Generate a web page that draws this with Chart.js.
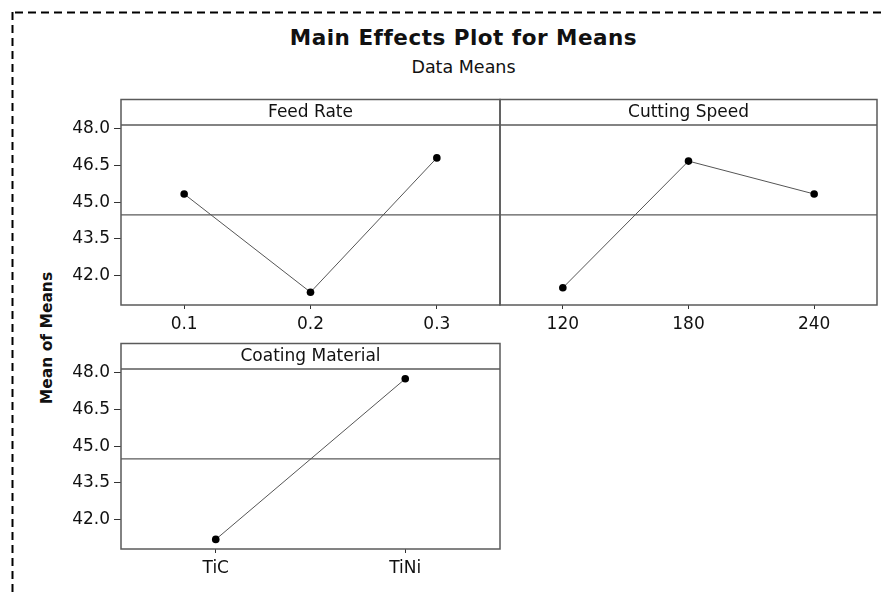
<!DOCTYPE html>
<html>
<head>
<meta charset="utf-8">
<title>Main Effects Plot for Means</title>
<script src="https://cdn.jsdelivr.net/npm/chart.js@4.4.1/dist/chart.umd.min.js"></script>
<style>
  html, body { margin: 0; padding: 0; background: #fff; }
  body { position: relative; width: 883px; height: 593px; overflow: hidden; font-family: "DejaVu Sans", sans-serif; color: #111; }
  canvas.panel { position: absolute; left: 0; top: 0; }
  #frame { position: absolute; left: 0; top: 0; }
  #title { position: absolute; left: 0; top: 27px; width: 927px; text-align: center; font-weight: bold; font-size: 21.5px; line-height: 22px; letter-spacing: 0.5px; }
  #subtitle { position: absolute; left: 0; top: 58px; width: 927px; text-align: center; font-size: 17.5px; line-height: 18px; }
  #ylabel { position: absolute; left: -53px; top: 328px; width: 200px; height: 20px; line-height: 20px; text-align: center; font-weight: bold; font-size: 15.5px; transform: rotate(-90deg); }
</style>
</head>
<body>
<svg id="frame" width="883" height="593">
  <line x1="15" y1="12.5" x2="883" y2="12.5" stroke="#000" stroke-width="2" stroke-dasharray="8 5" />
  <line x1="12.5" y1="12" x2="12.5" y2="593" stroke="#000" stroke-width="2" stroke-dasharray="8 5" />
</svg>
<div id="title">Main Effects Plot for Means</div>
<div id="subtitle">Data Means</div>
<div id="ylabel">Mean of Means</div>
<canvas class="panel" id="feed-chart" width="883" height="593"></canvas>
<canvas class="panel" id="speed-chart" width="883" height="593"></canvas>
<canvas class="panel" id="coating-chart" width="883" height="593"></canvas>
<script>
const feedRateLevels = ["0.1", "0.2", "0.3"];
const feedRateMeans = [45.33, 41.33, 46.8];

const cuttingSpeedLevels = ["120", "180", "240"];
const cuttingSpeedMeans = [41.51, 46.67, 45.33];

const coatingLevels = ["TiC", "TiNi"];
const coatingMeans = [41.2, 47.74];

const grandMean = 44.48;
const yTicks = [42.0, 43.5, 45.0, 46.5, 48.0];
const yMin = 40.81;
const yMax = 48.14;

const PAGE_W = 883;
const PAGE_H = 593;
const X_AXIS_H = 30;
const STRIP_H = 25.5;
const FONT = "'DejaVu Sans', sans-serif";
const LINE_GREY = "#5a5a5a";

// strip header, panel box and the reference line at the grand mean
const panelFrame = {
  id: "panelFrame",
  beforeDatasetsDraw(chart, args, opts) {
    const { ctx, chartArea } = chart;
    const y = chart.scales.y.getPixelForValue(opts.mean);
    ctx.save();
    ctx.strokeStyle = LINE_GREY;
    ctx.lineWidth = 1.2;
    ctx.beginPath();
    ctx.moveTo(chartArea.left, y);
    ctx.lineTo(chartArea.right, y);
    ctx.stroke();
    ctx.restore();
  },
  afterDraw(chart, args, opts) {
    const { ctx, chartArea } = chart;
    const { left, right, top, bottom } = chartArea;
    ctx.save();
    ctx.strokeStyle = LINE_GREY;
    ctx.lineWidth = 1.5;
    ctx.strokeRect(left, top - STRIP_H, right - left, bottom - top + STRIP_H);
    ctx.beginPath();
    ctx.moveTo(left, top);
    ctx.lineTo(right, top);
    ctx.stroke();
    ctx.fillStyle = "#111";
    ctx.font = `17px ${FONT}`;
    ctx.textAlign = "center";
    ctx.textBaseline = "middle";
    ctx.fillText(opts.title, (left + right) / 2, top - STRIP_H / 2);
    ctx.restore();
  },
};

function renderPanel(canvasId, box, title, labels, values, showY) {
  const canvas = document.querySelector(`#${canvasId}`);
  return new Chart(canvas, {
    type: "line",
    data: {
      labels,
      datasets: [
        {
          data: values,
          borderColor: "#555",
          borderWidth: 1,
          tension: 0,
          pointRadius: 3.8,
          pointBorderWidth: 0,
          pointBackgroundColor: "#000",
          pointBorderColor: "#000",
        },
      ],
    },
    options: {
      responsive: false,
      animation: false,
      layout: {
        padding: {
          left: showY ? 0 : box.left,
          top: box.top,
          right: PAGE_W - box.right,
          bottom: PAGE_H - box.bottom - X_AXIS_H,
        },
      },
      scales: {
        x: {
          type: "category",
          offset: true,
          border: { display: false },
          grid: { offset: false, drawOnChartArea: false, drawTicks: true, tickLength: 4, color: "#333" },
          ticks: { color: "#111", font: { family: FONT, size: 17 }, padding: 5, maxRotation: 0, autoSkip: false },
          afterFit: (scale) => {
            scale.height = X_AXIS_H;
          },
        },
        y: {
          display: showY,
          min: yMin,
          max: yMax,
          border: { display: false },
          grid: { drawOnChartArea: false, drawTicks: true, tickLength: 7, color: "#333" },
          ticks: {
            color: "#111",
            font: { family: FONT, size: 17 },
            padding: 4,
            callback: (value) => Number(value).toFixed(1),
          },
          afterBuildTicks: (scale) => {
            scale.ticks = yTicks.map((value) => ({ value }));
          },
          afterFit: (scale) => {
            scale.width = showY ? box.left : 0;
          },
        },
      },
      plugins: {
        legend: { display: false },
        tooltip: { enabled: false },
        panelFrame: { title, mean: grandMean },
      },
    },
    plugins: [panelFrame],
  });
}

renderPanel("feed-chart", { left: 121, top: 125, right: 500, bottom: 305 }, "Feed Rate", feedRateLevels, feedRateMeans, true);
renderPanel("speed-chart", { left: 500, top: 125, right: 877, bottom: 305 }, "Cutting Speed", cuttingSpeedLevels, cuttingSpeedMeans, false);
renderPanel("coating-chart", { left: 121, top: 369, right: 500, bottom: 549 }, "Coating Material", coatingLevels, coatingMeans, true);
</script>
</body>
</html>
